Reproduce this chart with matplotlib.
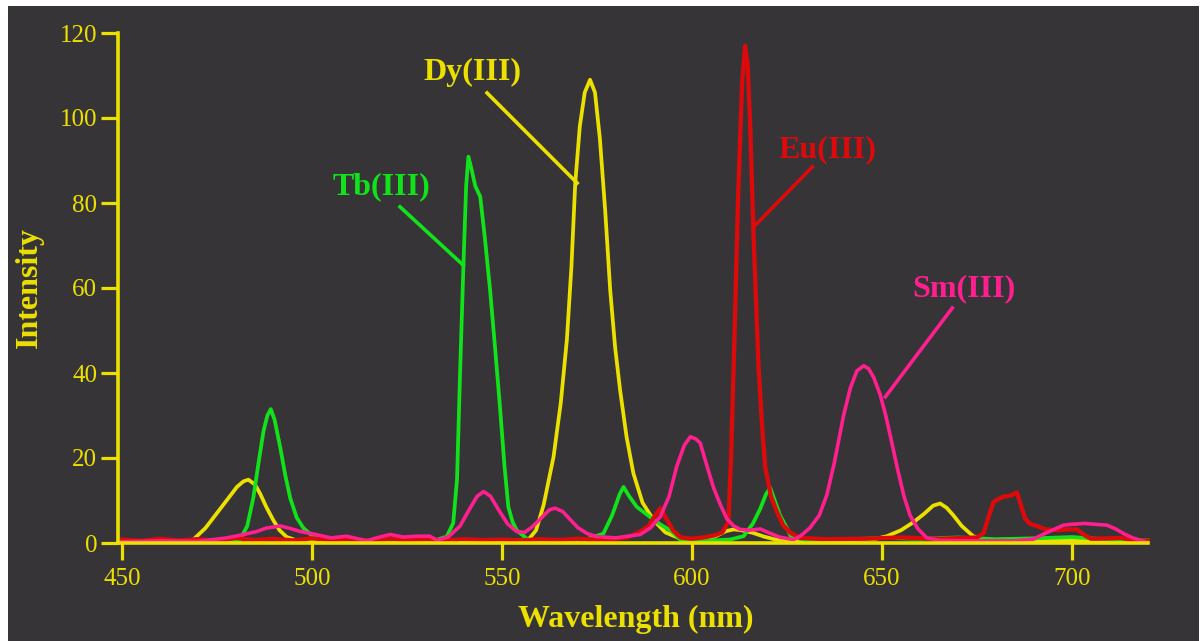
import numpy as np
import matplotlib
matplotlib.use("Agg")
import matplotlib.pyplot as plt
from matplotlib.patches import Rectangle

# emission spectra (wavelength nm, intensity)
dy_nm = [450, 460, 466, 468.8, 472, 475, 478, 480.3, 482, 483.3, 485, 486.4, 488, 489.9, 491.5, 493.4, 497,
         505, 520, 535, 550, 555, 557, 559, 561, 563.6, 565.5, 567.1, 568.3, 569.3, 570.5, 571.8, 573.2,
         574.5, 575.8, 577.2, 578.5, 579.8, 581.1, 582.8, 584.6, 587, 589.9, 593, 597, 602, 606, 609, 611,
         613, 616, 619, 622, 630, 640, 648, 651.3, 655, 658.3, 661, 663.5, 665.3, 667, 668.8, 671, 674,
         678, 690, 700, 710, 720]
dy_int = [0.3, 0.4, 0.5, 0.8, 3.5, 7, 10.5, 13.2, 14.5, 14.9, 13.8, 11.6, 8.5, 5.3, 3, 1.4, 0.3,
          0.4, 0.5, 0.4, 0.5, 0.6, 0.8, 3, 9, 20.3, 33, 47.8, 65, 84.6, 98, 106, 109,
          106, 95, 78, 59.5, 46, 36, 25, 16.4, 9.5, 5.4, 2.5, 1, 0.8, 1.5, 2.8, 3.2,
          3, 2.4, 1.5, 0.8, 0.5, 0.6, 0.9, 1.6, 3, 4.9, 6.8, 8.8, 9.3, 8.3, 6.5, 4, 1.6,
          0.6, 0.5, 0.7, 0.5, 0.4]

tb_nm = [450, 460, 470, 478, 481, 483, 484.6, 486, 487.3, 488.3, 489.2, 490.2, 491.7, 493, 494.3, 496,
         497.8, 500, 502, 505, 515, 525, 533, 535.5, 537.2, 538.2, 539, 539.9, 540.6, 541.2, 542, 543,
         544.3, 545.5, 546.9, 548.2, 549.5, 550.7, 551.7, 552.8, 553.9, 557, 565, 572, 576.7, 579, 581,
         582, 583.5, 585.5, 588, 590, 592, 594.3, 597, 605, 610, 613.6, 616, 618, 619.5, 620.6, 622,
         623.2, 625, 626, 630, 640, 650, 660, 670, 680, 690, 700, 710, 720]
tb_int = [0.3, 0.5, 0.4, 0.5, 0.6, 4, 10.6, 19, 26.4, 30, 31.5, 29, 22.4, 16, 10.6, 6,
          3.5, 1.8, 1.0, 0.5, 0.6, 0.5, 0.8, 1.5, 4.7, 15, 40, 65.8, 84, 90.9, 88, 84,
          81.5, 72, 59.5, 46, 32, 18, 8.5, 5, 3, 0.7, 0.5, 0.8, 2.2, 6.5, 11.5,
          13.2, 11, 8.5, 6.8, 5.4, 4.2, 3, 0.7, 0.6, 0.8, 1.6, 4.5, 8.1, 11.5, 13, 9.5,
          6.5, 3.5, 1.6, 0.6, 0.8, 1.2, 1.0, 1.3, 0.9, 1.1, 1.4, 0.8, 0.6]

eu_nm = [450, 455, 460, 465, 470, 475, 480, 485, 490, 495, 500, 505, 510, 515, 520, 525, 530, 535,
         540, 545, 550, 555, 560, 565, 570, 575, 580, 583, 586, 588.5, 590, 591.7, 593.4, 595, 597,
         600, 603, 606, 608, 609.6, 610.3, 611, 612.2, 613.2, 614, 614.7, 615.3, 616.2, 617.5, 618.5,
         619.3, 620.8, 622.4, 624, 625.9, 628.5, 635, 645, 655, 665, 672, 675, 676.7, 678, 679.4, 681,
         682, 684, 685.5, 686.5, 687.7, 689, 690.8, 693, 696, 699, 701.3, 703.4, 705, 710, 713, 716, 720]
eu_int = [0.8, 0.5, 1.0, 0.6, 0.9, 0.5, 1.2, 0.7, 1.0, 0.6, 1.1, 0.7, 0.9, 0.6, 1.0, 0.7, 0.9, 0.6,
          0.9, 0.7, 0.8, 0.6, 0.9, 0.7, 1.0, 0.8, 1.0, 1.3, 2.5, 3.9, 6, 8.2, 5.5, 3, 1.3,
          1.0, 1.3, 1.8, 2.5, 5, 20, 42, 82.6, 108, 117, 112, 98.8, 72.9, 42, 27,
          17.8, 11, 7.3, 4.2, 2.4, 1.2, 0.9, 1.0, 1.3, 1.0, 1.2, 1.3, 2.3, 6, 9.7, 10.5,
          10.9, 11.2, 11.9, 9, 5.7, 4.5, 4, 3.2, 3, 3.2, 3.2, 1.8, 1.0, 1.1, 1.2, 0.6, 0.5]

sm_nm = [450, 460, 470, 474, 477.6, 481, 485.5, 488, 491.7, 494, 497, 501, 505, 509.2, 512, 514.5,
         517, 520.6, 524, 527.6, 531, 533, 536, 539, 541.5, 543.5, 545.2, 547, 549, 551.5, 553.9, 556,
         558, 560.5, 562.5, 564, 566, 568, 570, 572.5, 575, 580, 586.4, 589, 591.7, 594, 596, 598,
         599.6, 601, 602.2, 604, 605.7, 607.5, 609.2, 611, 612.7, 615, 618, 620, 623, 626.7, 628.5,
         631, 633.5, 635.5, 637.5, 639.9, 641.7, 643.4, 645.2, 646.5, 647.8, 649.5, 651, 652.5, 654,
         655.8, 657.4, 659.5, 661.8, 665, 675, 685, 689.8, 693, 697.8, 700, 703.4, 706, 709.2, 711.5,
         713.6, 716, 719.7]
sm_int = [0.3, 0.5, 0.4, 0.8, 1.2, 1.8, 2.7, 3.5, 4.0, 3.5, 2.7, 2.0, 1.2, 1.6, 1.0, 0.5,
          1.2, 2.0, 1.4, 1.6, 1.6, 0.6, 1.5, 4, 8, 11, 12.1, 11, 8, 4.5, 2.7, 2.5,
          3.8, 6, 7.8, 8.2, 7.4, 5.5, 3.6, 2.2, 1.5, 1.2, 2, 3.5, 6.2, 11, 18, 23,
          25, 24.5, 23.5, 18, 13, 9, 5.7, 4, 3.2, 3, 3.3, 2.5, 1.4, 0.8, 1.6,
          3.5, 6.5, 11.3, 19, 30, 36.5, 40.5, 41.7, 41, 39, 35, 30, 24, 17.8,
          11, 6.5, 3.3, 1.2, 0.6, 0.5, 0.5, 0.9, 2.3, 4.2, 4.4, 4.6, 4.4, 4.2, 3.3,
          2.2, 1.2, 0.2]

x_ticks = [450, 500, 550, 600, 650, 700]
y_ticks = [0, 20, 40, 60, 80, 100, 120]

YELLOW = "#ebe000"
GREEN = "#12e21a"
RED = "#dc0a0a"
PINK = "#ff1f8e"
BG = "#373438"
SERIF = ["Liberation Serif", "DejaVu Serif"]

fig = plt.figure(figsize=(12.02, 6.41), dpi=100, facecolor="white")
fig.patches.append(Rectangle((8 / 1202, 0), 1191 / 1202, 635 / 641, transform=fig.transFigure,
                             facecolor=BG, edgecolor="none", zorder=-10))

ax = fig.add_axes([118 / 1202, 98 / 641, 1030 / 1202, 510 / 641])
ax.set_facecolor("none")

ax.plot(dy_nm, dy_int, color=YELLOW, lw=2.7, clip_on=False, zorder=2)
ax.plot(tb_nm, tb_int, color=GREEN, lw=2.7, clip_on=False, zorder=2)
ax.plot(eu_nm, eu_int, color=RED, lw=3.1, clip_on=False, zorder=3)
ax.plot(sm_nm, sm_int, color=PINK, lw=2.6, clip_on=False, zorder=4)

ax.set_xlim(449, 720)
ax.set_ylim(0, 120)
ax.set_xticks(x_ticks)
ax.set_yticks(y_ticks)
for s in ["top", "right"]:
    ax.spines[s].set_visible(False)
for s in ["left", "bottom"]:
    ax.spines[s].set_color(YELLOW)
    ax.spines[s].set_linewidth(2.6)
    ax.spines[s].set_zorder(5)
ax.tick_params(direction="out", length=12, width=2.3, color=YELLOW, labelcolor=YELLOW,
               labelsize=18)
ax.tick_params(axis="x", pad=6)
ax.tick_params(axis="y", pad=3)
for lab in ax.get_xticklabels() + ax.get_yticklabels():
    lab.set_family(SERIF)

ax.set_xlabel("Wavelength (nm)", color=YELLOW, fontsize=23, fontweight="bold", family=SERIF)
ax.xaxis.label.set_va("center")
ax.xaxis.set_label_coords(0.503, -0.15)
ax.set_ylabel("Intensity", color=YELLOW, fontsize=23, fontweight="bold", family=SERIF)
ax.yaxis.label.set_va("center")
ax.yaxis.set_label_coords(-0.0864, 0.5)

# peak labels with leader lines
labels = [
    ("Dy(III)", YELLOW, (542.2, 110.6), [(546.1, 105.9), (569.8, 84.7)]),
    ("Tb(III)", GREEN, (518.2, 83.8), [(523.2, 79.1), (539.8, 65.4)]),
    ("Eu(III)", RED, (635.6, 92.5), [(631.7, 88.5), (616.7, 74.8)]),
    ("Sm(III)", PINK, (671.6, 59.8), [(668.5, 55.3), (650.9, 34.4)]),
]
for txt, col, pos, seg in labels:
    ax.text(pos[0], pos[1], txt, color=col, fontsize=23, fontweight="bold", family=SERIF,
            ha="center", va="center")
    ax.plot([seg[0][0], seg[1][0]], [seg[0][1], seg[1][1]], color=col, lw=2.6)

fig.savefig("out.png", dpi=100, facecolor=fig.get_facecolor())
